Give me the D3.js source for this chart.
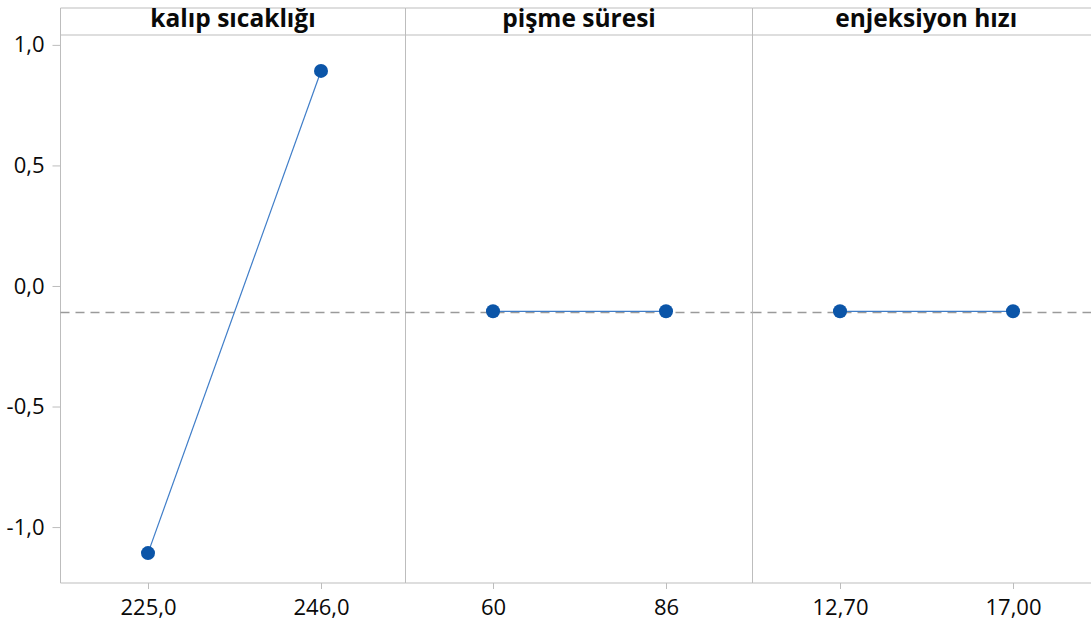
<!DOCTYPE html>
<html>
<head>
<meta charset="utf-8">
<script src="https://cdn.jsdelivr.net/npm/d3@7"></script>
<style>
  html, body { margin: 0; padding: 0; background: #fff; }
  svg { display: block; }
</style>
</head>
<body>
<svg id="chart" width="1091" height="624"></svg>
<script>
// Main effects plot: one panel per factor, mean response at each level.
const factors = ["kalıp sıcaklığı", "pişme süresi", "enjeksiyon hızı"];
const levelLabels = [
  ["225,0", "246,0"],
  ["60", "86"],
  ["12,70", "17,00"]
];
const meanValues = [
  [-1.108, 0.892],
  [-0.105, -0.105],
  [-0.105, -0.105]
];
const grandMean = -0.11;
const yTicks = [-1.0, -0.5, 0.0, 0.5, 1.0];

const svg = d3.select("#chart");
const stripTop = 8, stripH = 27, axisBottomY = 583;
const panelStarts = [60.5, 405.5, 752.5];
const panelEnds = [405.5, 752.5, 1100];
const plotTop = stripTop + stripH;

const y = d3.scaleLinear()
  .domain([-1.232, 1.041])
  .range([axisBottomY, plotTop]);

// level index -> horizontal position inside a panel
const x = d3.scaleLinear().domain([-0.5, 1.5]).range([1, 347]);

const gridColor = "#bdbdbd";
const blue = "#0b55a8";
const lineBlue = "#3f7dc8";
const fontFam = "'Open Sans', 'Noto Sans', sans-serif";

// Y axis
const yAxis = d3.axisLeft(y)
  .tickValues(yTicks)
  .tickSize(8)
  .tickPadding(8)
  .tickFormat(d => d3.format(".1f")(d).replace(".", ",").replace("−", "-"));
const gy = svg.append("g").attr("transform", `translate(${panelStarts[0]},0)`).call(yAxis);
gy.select(".domain").remove();
gy.selectAll(".tick line").attr("stroke", gridColor);
gy.selectAll(".tick text")
  .attr("font-family", fontFam)
  .attr("font-size", 22)
  .attr("fill", "#0a0a0a");

factors.forEach((name, i) => {
  const x0 = panelStarts[i];
  const w = panelEnds[i] - x0;
  const g = svg.append("g").attr("transform", `translate(${x0},0)`);

  // strip header
  g.append("line").attr("x1", 0).attr("x2", w).attr("y1", stripTop).attr("y2", stripTop)
    .attr("stroke", gridColor);
  g.append("line").attr("x1", 0).attr("x2", w).attr("y1", plotTop).attr("y2", plotTop)
    .attr("stroke", gridColor);
  g.append("text")
    .attr("x", w / 2).attr("y", 27)
    .attr("text-anchor", "middle")
    .attr("font-family", fontFam).attr("font-weight", 700).attr("font-size", 24.5)
    .attr("fill", "#0a0a0a")
    .text(name);

  // panel left border
  g.append("line").attr("x1", 0).attr("x2", 0).attr("y1", stripTop).attr("y2", axisBottomY)
    .attr("stroke", gridColor);

  // bottom axis
  const xAxis = d3.axisBottom(x).tickValues([0, 1]).tickSize(6).tickPadding(10.5)
    .tickFormat(d => levelLabels[i][d]);
  const gx = g.append("g").attr("transform", `translate(0,${axisBottomY})`).call(xAxis);
  gx.select(".domain").attr("stroke", gridColor).attr("d", `M0,0H${w}`);
  gx.selectAll(".tick line").attr("stroke", gridColor);
  gx.selectAll(".tick text")
    .attr("font-family", fontFam).attr("font-size", 22).attr("fill", "#0a0a0a");

  // grand mean reference line
  g.append("line")
    .attr("x1", 0).attr("x2", w)
    .attr("y1", y(grandMean)).attr("y2", y(grandMean))
    .attr("stroke", "#9a9a9a").attr("stroke-width", 1.6)
    .attr("stroke-dasharray", "9,6");

  const pts = meanValues[i].map((v, k) => [x(k), y(v)]);
  g.append("path")
    .attr("d", d3.line()(pts))
    .attr("fill", "none").attr("stroke", lineBlue).attr("stroke-width", 1.2);
  g.selectAll("circle.pt").data(pts).enter().append("circle")
    .attr("class", "pt")
    .attr("cx", d => d[0]).attr("cy", d => d[1]).attr("r", 7)
    .attr("fill", blue);
});
</script>
</body>
</html>
